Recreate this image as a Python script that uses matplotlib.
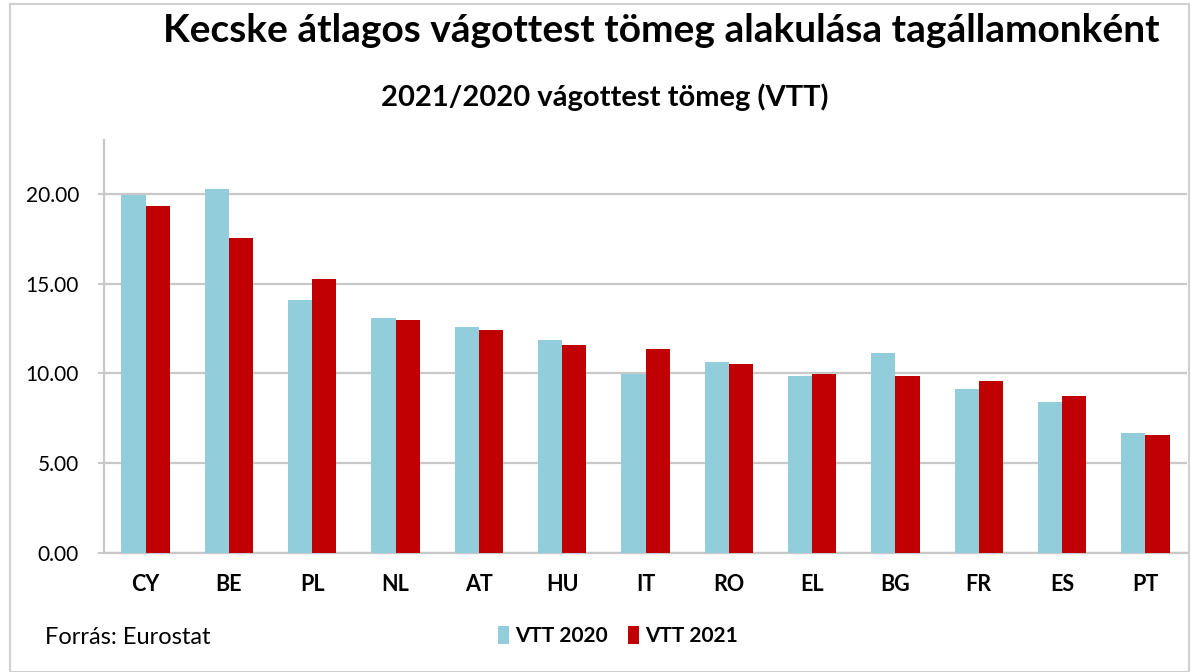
import matplotlib
matplotlib.use("Agg")
import matplotlib.pyplot as plt
import numpy as np
from matplotlib.patches import Rectangle

categories = ["CY", "BE", "PL", "NL", "AT", "HU", "IT", "RO", "EL", "BG", "FR", "ES", "PT"]
vtt_2020 = [19.96, 20.28, 14.07, 13.09, 12.59, 11.84, 9.98, 10.62, 9.84, 11.14, 9.15, 8.43, 6.68]
vtt_2021 = [19.31, 17.55, 15.26, 13.00, 12.40, 11.60, 11.36, 10.53, 9.95, 9.84, 9.60, 8.72, 6.55]
series_labels = ["VTT 2020", "VTT 2021"]
yticks = [0, 5, 10, 15, 20]

title = "Kecske átlagos vágottest tömeg alakulása tagállamonként"
subtitle = "2021/2020 vágottest tömeg (VTT)"
source = "Forrás: Eurostat"

c2020 = "#92CDDC"
c2021 = "#C00000"

plt.rcParams['font.family'] = ['Lato', 'DejaVu Sans']

fig = plt.figure(figsize=(11.91, 6.72), dpi=100)
ax = fig.add_axes([104/1191, 1-553/672, (1187-104)/1191, (553-140)/672])

x = np.arange(len(categories))
w = 0.29
ax.bar(x - w/2, vtt_2020, width=w, color=c2020, label=series_labels[0], zorder=3)
ax.bar(x + w/2, vtt_2021, width=w, color=c2021, label=series_labels[1], zorder=3)

ax.set_xlim(-0.5, len(categories) - 0.5)
ax.set_ylim(0, 23)
ax.set_yticks(yticks)
ax.set_yticklabels([f"{v:.2f}" for v in yticks], fontsize=15)
ax.set_xticks(x)
ax.set_xticklabels(categories, fontsize=15.5, fontweight='bold')
ax.tick_params(axis='x', length=0, pad=15)
ax.tick_params(axis='y', length=4, width=1.4, color="#C8C8C8", pad=14)
ax.yaxis.grid(True, color="#C8C8C8", linewidth=1.6, zorder=0)
ax.set_axisbelow(True)
for s in ["top", "right"]:
    ax.spines[s].set_visible(False)
ax.spines["left"].set_color("#C8C8C8")
ax.spines["left"].set_linewidth(1.6)
ax.spines["bottom"].set_color("#C8C8C8")
ax.spines["bottom"].set_linewidth(1.6)

fig.text(661/1191, 1-30/672, title, ha="center", va="center", fontsize=28, fontweight="bold")
fig.text(605/1191, 1-97/672, subtitle, ha="center", va="center", fontsize=21, fontweight="bold")
fig.text(45/1191, 1-638/672, source, ha="left", va="center", fontsize=17)

leg = fig.legend(loc="center", bbox_to_anchor=(618/1191, 1-636/672), ncol=2, frameon=False,
                 fontsize=15, handlelength=0.5, handleheight=1.0, handletextpad=0.3, columnspacing=1.0)
for t in leg.get_texts():
    t.set_fontweight("bold")

# outer chart border
fig.add_artist(Rectangle((10/1191, 0), 1 - 12/1191, 1 - 4/672, transform=fig.transFigure,
                         fill=False, edgecolor="#D0D0D0", linewidth=1.5))

fig.savefig("out.png", dpi=100)
